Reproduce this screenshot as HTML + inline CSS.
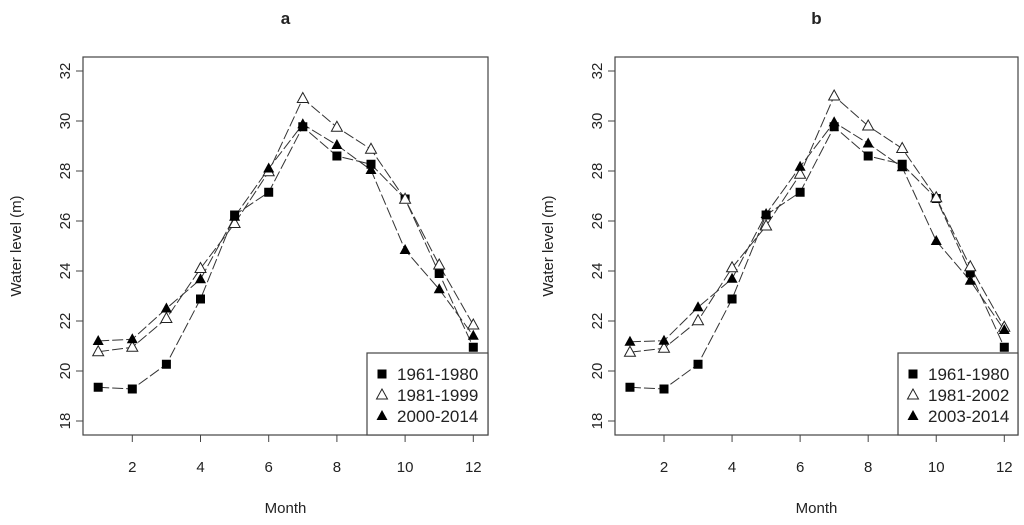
<!DOCTYPE html>
<html><head><meta charset="utf-8"><style>
body{margin:0;background:#fff}
svg text{font-family:"Liberation Sans",Arial,sans-serif;fill:#222}
</style></head><body>
<svg id="chart" width="1024" height="520" xmlns="http://www.w3.org/2000/svg"></svg>
<script>
const months=[1,2,3,4,5,6,7,8,9,10,11,12];
const yTicks=[18,20,22,24,26,28,30,32];
const xTicks=[2,4,6,8,10,12];
const aS1=[19.35,19.28,20.27,22.88,26.24,27.15,29.77,28.6,28.27,26.88,23.9,20.95];
const aS2=[20.77,20.95,22.1,24.1,25.9,27.97,30.9,29.75,28.87,26.87,24.24,21.84];
const aS3=[21.2,21.27,22.5,23.67,26.17,28.1,29.87,29.04,28.04,24.84,23.27,21.41];
const bS1=[19.35,19.28,20.27,22.88,26.24,27.15,29.77,28.6,28.27,26.9,23.93,20.95];
const bS2=[20.75,20.91,22.01,24.13,25.8,27.87,31.0,29.8,28.9,26.93,24.17,21.75];
const bS3=[21.17,21.21,22.55,23.69,26.28,28.17,29.95,29.1,28.15,25.2,23.61,21.64];
const aLabels=["1961-1980","1981-1999","2000-2014"];
const bLabels=["1961-1980","1981-2002","2003-2014"];

const svg=document.getElementById('chart');
const NS='http://www.w3.org/2000/svg';
function mk(tag,attrs,parent){const e=document.createElementNS(NS,tag);for(const k in attrs)e.setAttribute(k,attrs[k]);(parent||svg).appendChild(e);return e;}

function panel(p){
  const g=mk('g',{});
  
  
  const X=m=>p.x2+(m-2)*p.dx;
  const Y=v=>71+(32-v)*25;
  const t=mk('text',{x:(p.bx0+p.bx1)/2,y:24,'text-anchor':'middle','font-size':'17','font-weight':'bold'},g);
  t.textContent=p.title;
  
  
  const box=mk('rect',{x:p.bx0,y:57,width:p.bx1-p.bx0,height:378,fill:'none',stroke:'#444','stroke-width':1.2},g);
  
  
  yTicks.forEach(v=>{
    mk('line',{x1:p.bx0-7,x2:p.bx0,y1:Y(v),y2:Y(v),stroke:'#444'},g);
    const tx=mk('text',{x:0,y:0,'text-anchor':'middle','font-size':'15',fill:'#333',transform:`translate(${p.bx0-13},${Y(v)}) rotate(-90)`},g);
    tx.textContent=v;
    
    
  });
  xTicks.forEach(m=>{
    mk('line',{x1:X(m),x2:X(m),y1:435,y2:442,stroke:'#444'},g);
    const tx=mk('text',{x:X(m),y:472,'text-anchor':'middle','font-size':'15',fill:'#333'},g);
    tx.textContent=m;
    
    
  });
  const xt=mk('text',{x:(p.bx0+p.bx1)/2,y:513,'text-anchor':'middle','font-size':'15',fill:'#333'},g);
  xt.textContent='Month';
  
  
  const yt=mk('text',{x:0,y:0,'text-anchor':'middle','font-size':'15',fill:'#333',transform:`translate(${p.bx0-62},${(57+435)/2}) rotate(-90)`},g);
  yt.textContent='Water level (m)';
  
  
  const kinds=['sq','open','fill'];
  p.series.forEach((s,i)=>{
    const pts=months.map((m,j)=>X(m)+','+Y(s[j])).join(' ');
    const l=mk('polyline',{points:pts,fill:'none',stroke:'#333','stroke-width':1,'stroke-dasharray':'11,3'},g);
    
    
  });
  p.series.forEach((s,i)=>{
    months.forEach((m,j)=>{
      const mrk=marker(kinds[i],X(m),Y(s[j]),g);
      
      
    });
  });
  const lg=mk('g',{},g);
  
  
  mk('rect',{x:p.lx,y:353,width:p.bx1-p.lx,height:82,fill:'#fff',stroke:'#444','stroke-width':1.2},lg);
  p.labels.forEach((lab,i)=>{
    const yy=374+i*21;
    marker(kinds[i],p.lx+15,yy,lg);
    const tx=mk('text',{x:p.lx+30,y:yy+6,'font-size':'17',fill:'#222'},lg);
    tx.textContent=lab;
    
    
  });
}
function marker(k,x,y,g){
  if(k==='sq')return mk('rect',{x:x-4.5,y:y-4.5,width:9,height:9,fill:'#000'},g);
  const pts=`${x},${y-6} ${x-5.5},${y+4} ${x+5.5},${y+4}`;
  if(k==='open')return mk('polygon',{points:pts,fill:'#fff',stroke:'#222','stroke-width':1},g);
  return mk('polygon',{points:pts,fill:'#000'},g);
}
panel({title:'a',bx0:83,bx1:488,x2:132.3,dx:34.1,lx:367,series:[aS1,aS2,aS3],labels:aLabels});
panel({title:'b',bx0:615,bx1:1018,x2:664,dx:34.03,lx:898,series:[bS1,bS2,bS3],labels:bLabels});
</script>
</body></html>
